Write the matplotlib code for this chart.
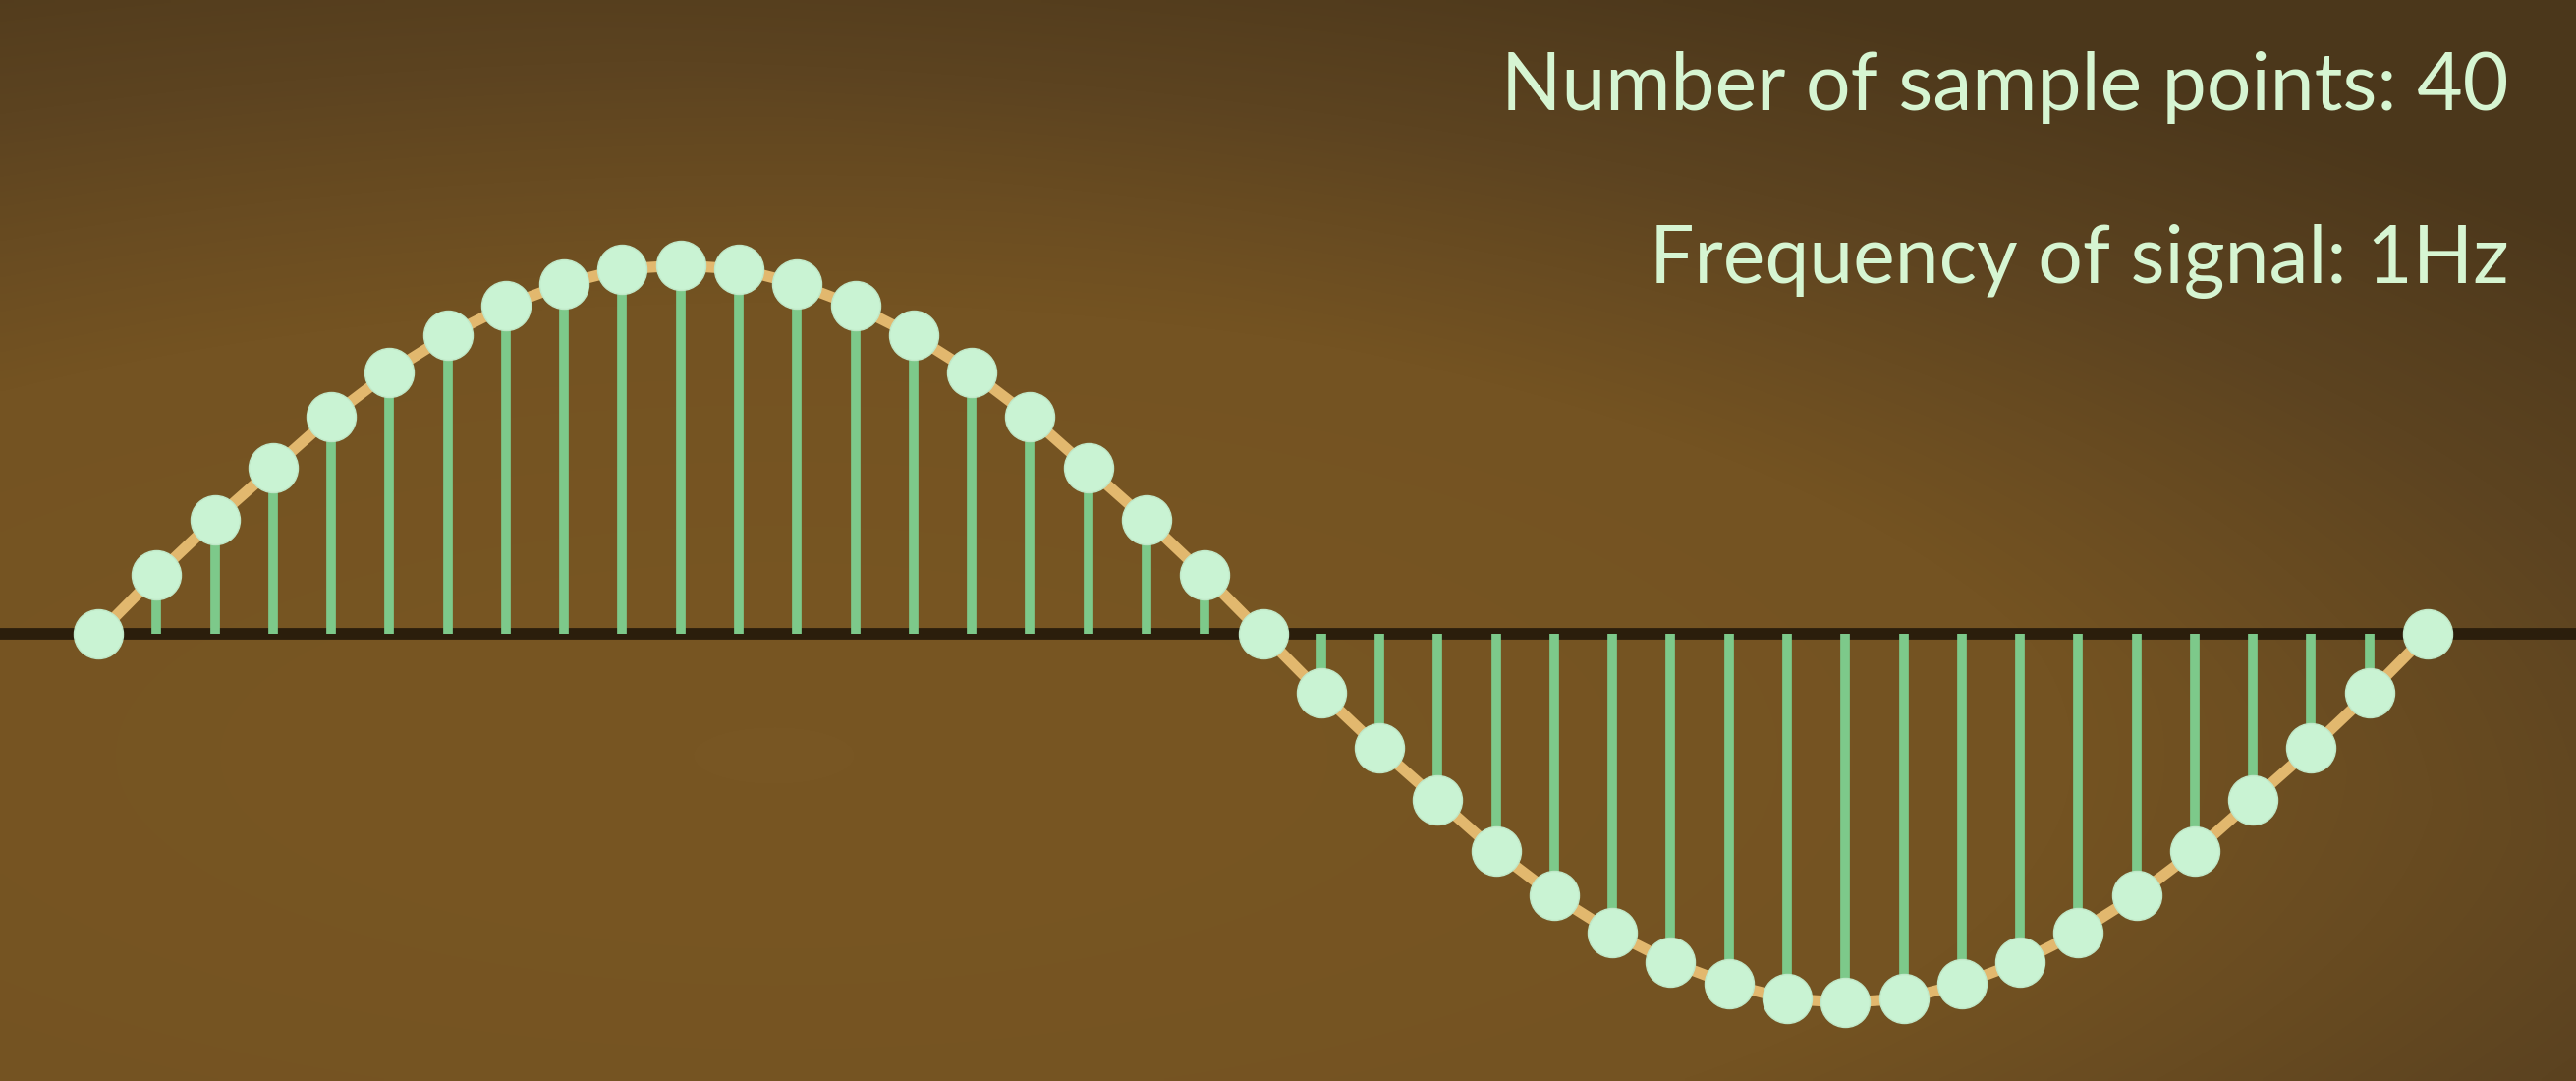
import numpy as np
import matplotlib
matplotlib.use("Agg")
import matplotlib.pyplot as plt
from matplotlib.colors import LinearSegmentedColormap

sample_idx = list(range(41))
sample_val = [0.00, 0.16, 0.31, 0.45, 0.59, 0.71, 0.81, 0.89, 0.95, 0.99,
              1.00, 0.99, 0.95, 0.89, 0.81, 0.71, 0.59, 0.45, 0.31, 0.16,
              0.00, -0.16, -0.31, -0.45, -0.59, -0.71, -0.81, -0.89, -0.95, -0.99,
              -1.00, -0.99, -0.95, -0.89, -0.81, -0.71, -0.59, -0.45, -0.31, -0.16,
              0.00]
label_points = "Number of sample points: 40"
label_freq = "Frequency of signal: 1Hz"

bg_mid = "#745322"
stem_color = "#7dc98a"
line_color = "#e2b86e"
dot_color = "#c9f3d3"
text_color = "#d6f5d2"
base_color = "#2b1e0c"

fig = plt.figure(figsize=(26.22, 11), dpi=100)
ax = fig.add_axes([0, 0, 1, 1])
xmin, xmax = -1.687, 42.547
ymin, ymax = -1.213, 1.72
ax.set_xlim(xmin, xmax)
ax.set_ylim(ymin, ymax)
ax.axis("off")

# background: soft vignette, lighter lower-left, darker top and top-right
gx, gy = np.meshgrid(np.linspace(0, 1, 400), np.linspace(0, 1, 200))
r = np.sqrt(((gx - 0.3) / 0.9) ** 2 + ((gy - 0.3) / 0.75) ** 2)
shade = np.clip(1 - 0.55 * r ** 1.6, 0, 1)
shade -= 0.12 * np.clip(gx + gy - 1.2, 0, 1)
cmap = LinearSegmentedColormap.from_list("bg", ["#4b371b", "#5c4320", bg_mid, "#785623"])
ax.imshow(shade, extent=(xmin, xmax, ymin, ymax), origin="lower", cmap=cmap,
          vmin=0.35, vmax=1.0, aspect="auto", zorder=0, interpolation="bilinear")

# baseline
ax.axhline(0, color=base_color, lw=8.5, zorder=1)

# stems
ax.vlines(sample_idx, 0, sample_val, color=stem_color, lw=7, zorder=2)

# connecting line and sample dots
ax.plot(sample_idx, sample_val, color=line_color, lw=8, zorder=3,
        solid_capstyle="round")
ax.plot(sample_idx, sample_val, "o", ms=36, color=dot_color, mec="#c0e8c8",
        mew=1, zorder=4)

ax.text(0.974, 0.898, label_points, transform=ax.transAxes, ha="right",
        va="baseline", fontsize=58, color=text_color, family="Lato")
ax.text(0.974, 0.738, label_freq, transform=ax.transAxes, ha="right",
        va="baseline", fontsize=58, color=text_color, family="Lato")

fig.savefig("out.png", dpi=100)
